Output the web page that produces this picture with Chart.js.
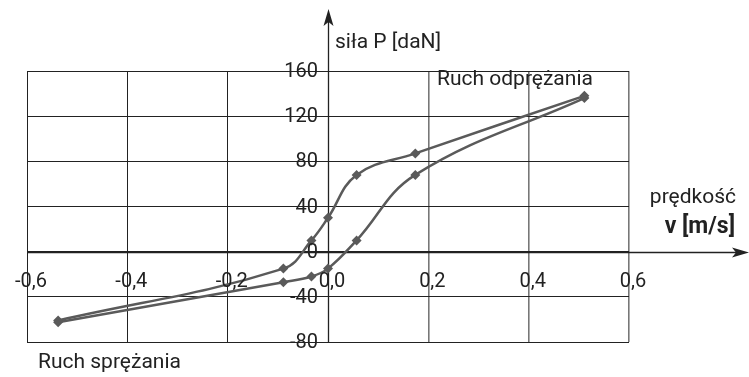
<!DOCTYPE html>
<html>
<head>
<meta charset="utf-8">
<script src="https://cdn.jsdelivr.net/npm/chart.js@4.4.0/dist/chart.umd.min.js"></script>
<style>
  html, body { margin: 0; padding: 0; background: #fff; }
  canvas { display: block; }
</style>
</head>
<body>
<canvas id="myChart" width="749" height="377"></canvas>
<script>
// tick labels
const xTicks = [-0.6, -0.4, -0.2, 0, 0.2, 0.4, 0.6];
const yTicks = [-80, -40, 0, 40, 80, 120, 160];

// upper branch of the loop
const vUpper = [-0.538, -0.089, -0.033, 0, 0.057, 0.174, 0.511];
const pUpper = [-61, -15, 10, 30, 68, 87, 138];

// lower branch of the loop
const vLower = [-0.538, -0.089, -0.033, 0, 0.057, 0.174, 0.511];
const pLower = [-62.5, -27, -22, -15, 10, 68, 136];

const toPoints = (xs, ys) => xs.map((x, i) => ({ x: x, y: ys[i] }));

const lineColor = "#5a5a5a";
const fontName = "Roboto, 'DejaVu Sans', sans-serif";

const axesPlugin = {
  id: "axesPlugin",
  beforeDatasetsDraw(chart) {
    const ctx = chart.ctx;
    const xs = chart.scales.x;
    const ys = chart.scales.y;
    const x0 = Math.round(xs.getPixelForValue(0)) + 0.5;
    const y0 = Math.round(ys.getPixelForValue(0)) + 0.5;
    ctx.save();
    ctx.strokeStyle = "#222";
    ctx.fillStyle = "#222";
    ctx.lineWidth = 1.3;
    // y axis with arrow
    ctx.beginPath();
    ctx.moveTo(x0, ys.bottom);
    ctx.lineTo(x0, 14);
    ctx.stroke();
    ctx.beginPath();
    ctx.moveTo(x0, 9);
    ctx.lineTo(x0 - 5, 26);
    ctx.lineTo(x0, 22);
    ctx.lineTo(x0 + 5, 26);
    ctx.closePath();
    ctx.fill();
    // x axis with arrow
    ctx.beginPath();
    ctx.moveTo(xs.left, y0);
    ctx.lineTo(744, y0);
    ctx.stroke();
    ctx.beginPath();
    ctx.moveTo(749, y0);
    ctx.lineTo(732, y0 - 5);
    ctx.lineTo(736, y0);
    ctx.lineTo(732, y0 + 5);
    ctx.closePath();
    ctx.fill();
    ctx.restore();
  },
  afterDraw(chart) {
    const ctx = chart.ctx;
    const xs = chart.scales.x;
    const ys = chart.scales.y;
    const x0 = xs.getPixelForValue(0);
    const y0 = ys.getPixelForValue(0);
    ctx.save();
    ctx.fillStyle = "#222";
    ctx.font = "20px " + fontName;
    ctx.textBaseline = "middle";
    // x tick labels
    ctx.textAlign = "center";
    xTicks.forEach((v) => {
      const label = v.toFixed(1).replace(".", ",");
      ctx.fillText(label, xs.getPixelForValue(v) + 4, y0 + 30);
    });
    // y tick labels
    ctx.textAlign = "right";
    yTicks.forEach((v) => {
      ctx.fillText(String(v), x0 - 10, ys.getPixelForValue(v) + 1);
    });
    // titles
    ctx.font = "21px " + fontName;
    ctx.textAlign = "left";
    ctx.fillText("siła P [daN]", x0 + 7, 43);
    ctx.fillText("Ruch odprężania", 437, 80);
    ctx.fillText("Ruch sprężania", 38, 363);
    ctx.textAlign = "right";
    ctx.fillText("prędkość", 736, 198);
    ctx.font = "bold 23px " + fontName;
    ctx.fillText("v [m/s]", 735, 227);
    ctx.restore();
  }
};

const ctx = document.getElementById("myChart").getContext("2d");
const chart = new Chart(ctx, {
  type: "scatter",
  data: {
    datasets: [
      {
        label: "upper",
        data: toPoints(vUpper, pUpper),
        showLine: true,
        borderColor: lineColor,
        backgroundColor: lineColor,
        borderWidth: 2.5,
        tension: 0.4,
        pointStyle: "rectRot",
        pointRadius: 5,
        pointBorderWidth: 0
      },
      {
        label: "lower",
        data: toPoints(vLower, pLower),
        showLine: true,
        borderColor: lineColor,
        backgroundColor: lineColor,
        borderWidth: 2.5,
        tension: 0.4,
        pointStyle: "rectRot",
        pointRadius: 5,
        pointBorderWidth: 0
      }
    ]
  },
  options: {
    responsive: false,
    animation: false,
    devicePixelRatio: 1,
    layout: { padding: { left: 27, top: 71, right: 120, bottom: 35 } },
    plugins: {
      legend: { display: false },
      tooltip: { enabled: false }
    },
    scales: {
      x: {
        type: "linear",
        min: -0.6,
        max: 0.6,
        ticks: { display: false, stepSize: 0.2 },
        grid: {
          drawTicks: false,
          color: (c) => (c.tick && c.tick.value > 0.01 ? "#777" : "#222"),
          lineWidth: (c) => (c.tick && c.tick.value > 0.01 ? 1.6 : 1)
        },
        border: { display: false }
      },
      y: {
        type: "linear",
        min: -80,
        max: 160,
        ticks: { display: false, stepSize: 40 },
        grid: { drawTicks: false, color: "#222", lineWidth: 1 },
        border: { display: false }
      }
    }
  },
  plugins: [axesPlugin]
});
</script>
</body>
</html>
